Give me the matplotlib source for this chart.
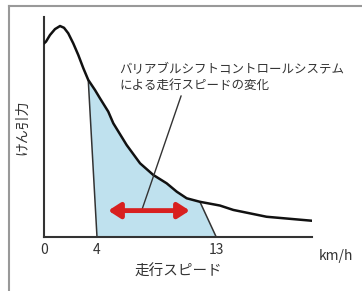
import matplotlib.pyplot as plt
from matplotlib.lines import Line2D

plt.rcParams['font.family'] = ['Noto Sans CJK JP', 'DejaVu Sans']

# けん引力カーブ (読み取り値)
speed = [0.0, 0.15, 0.45, 0.83, 1.21, 1.51, 1.83, 2.21, 2.59, 2.97, 3.34, 3.85, 4.23, 4.85,
         5.23, 6.24, 7.25, 8.25, 9.26, 10.02, 10.77, 11.77, 13.28, 14.29, 16.8, 20.2]
force = [88.0, 88.8, 91.8, 94.5, 95.9, 95.1, 92.6, 88.0, 82.7, 76.7, 71.4, 66.8, 63.0, 57.0,
         51.7, 41.8, 33.5, 28.2, 24.4, 20.6, 17.6, 16.0, 14.3, 12.3, 9.2, 7.4]

# 変化範囲
band_top = [3.34, 11.77]
band_low = [4, 13]
arrow_x = [4.85, 11.0]
arrow_y = 12.0
tick_vals = [0, 4, 13]

fig = plt.figure(figsize=(3.62, 2.91), dpi=100)
ax = fig.add_axes([44 / 362, (291 - 237) / 291, (312 - 44) / 362, (237 - 17) / 291])
ax.set_xlim(0, 20.23)
ax.set_ylim(0, 100)

# 塗りつぶし
poly_x = [band_low[0]] + [x for x in speed if band_top[0] <= x <= band_top[1]] + [band_low[1]]
poly_y = [0] + [y for x, y in zip(speed, force) if band_top[0] <= x <= band_top[1]] + [0]
ax.fill(poly_x, poly_y, color='#bfe1ee', lw=0, zorder=1)
ax.plot([band_top[0], band_low[0]], [force[speed.index(band_top[0])], 0], color='#333333', lw=1.1, zorder=2)
ax.plot([band_top[1], band_low[1]], [force[speed.index(band_top[1])], 0], color='#333333', lw=1.1, zorder=2)

ax.plot(speed, force, color='#111111', lw=1.8, zorder=3, solid_joinstyle='round')

# 赤い両矢印
ax.annotate('', xy=(arrow_x[0], arrow_y), xytext=(arrow_x[1], arrow_y),
            arrowprops=dict(arrowstyle='<|-|>,head_length=0.7,head_width=0.45', color='#d8201f', lw=3.5,
                            shrinkA=0, shrinkB=0), zorder=4)
ax.annotate('バリアブルシフトコントロールシステム\nによる走行スピードの変化',
            xy=(7.37, arrow_y), xytext=(5.7, 72.5), fontsize=9, color='#333333',
            linespacing=1.25, va='center', ha='left',
            arrowprops=dict(arrowstyle='-', color='#333333', lw=1.0, shrinkA=1, shrinkB=0,
                            relpos=(0.28, 0)), zorder=3)

for s in ['top', 'right']:
    ax.spines[s].set_visible(False)
for s in ['left', 'bottom']:
    ax.spines[s].set_color('#333333')
    ax.spines[s].set_linewidth(1.5)
ax.set_yticks([])
ax.set_xticks(tick_vals)
ax.set_xticklabels([str(v) for v in tick_vals], fontsize=10, color='#333333')
ax.tick_params(axis='x', length=0, pad=4)
ax.text(22.0, -8.5, 'km/h', fontsize=10, color='#333333', ha='center', va='center', clip_on=False)
ax.set_xlabel('走行スピード', fontsize=10.5, color='#333333', labelpad=6)
ax.set_ylabel('けん引力', fontsize=10, color='#333333', labelpad=11)

# 枠線
fig.add_artist(Line2D([9 / 362, 1], [1 - 6 / 291, 1 - 6 / 291], color='#999999', lw=1.5))
fig.add_artist(Line2D([9 / 362, 9 / 362], [0, 1 - 6 / 291], color='#999999', lw=1.5))

fig.savefig('out.png', dpi=100)
